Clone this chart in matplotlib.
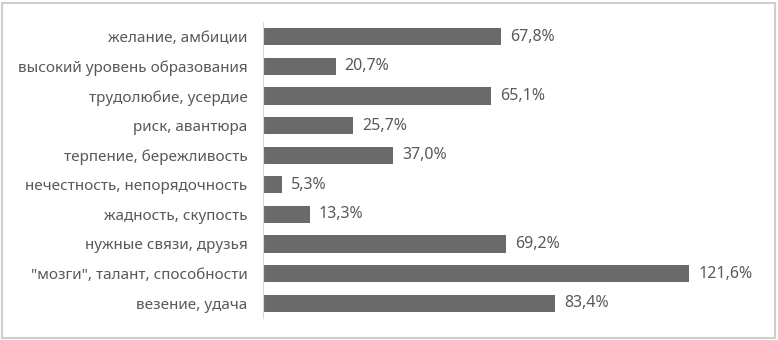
import matplotlib
matplotlib.use('Agg')
import matplotlib.pyplot as plt
from matplotlib.patches import Rectangle

# categories from top to bottom
labels = ['желание, амбиции', 'высокий уровень образования', 'трудолюбие, усердие',
          'риск, авантюра', 'терпение, бережливость', 'нечестность, непорядочность',
          'жадность, скупость', 'нужные связи, друзья', '"мозги", талант, способности',
          'везение, удача']
values = [67.8, 20.7, 65.1, 25.7, 37.0, 5.3, 13.3, 69.2, 121.6, 83.4]

plt.rcParams['font.family'] = ['Noto Sans', 'DejaVu Sans']
text_color = '#595959'

fig = plt.figure(figsize=(7.78, 3.4), dpi=100)
ax = fig.add_axes([263 / 778, 22 / 340, (754 - 263) / 778, (318 - 22) / 340])

y = list(range(len(labels)))
ax.barh(y, values, height=0.58, color='#6a6a6a')
for yi, v in zip(y, values):
    ax.text(v + 2.6, yi, f'{v:.1f}%'.replace('.', ','), va='center', ha='left',
            fontsize=11.5, color=text_color)

ax.set_yticks(y)
ax.set_yticklabels(labels, fontsize=11, color=text_color)
ax.tick_params(axis='y', length=0, pad=11)
ax.set_xticks([])
ax.set_xlim(0, 140)
ax.set_ylim(len(labels) - 0.5, -0.5)
for s in ['top', 'right', 'bottom']:
    ax.spines[s].set_visible(False)
ax.spines['left'].set_color('#d9d9d9')

# frame around the whole chart
fig.patches.append(Rectangle((2 / 778, 2 / 340), 773 / 778, 335 / 340, transform=fig.transFigure,
                             fill=False, edgecolor='#cfcfcf', linewidth=1.5))

fig.savefig('out.png', dpi=100)
